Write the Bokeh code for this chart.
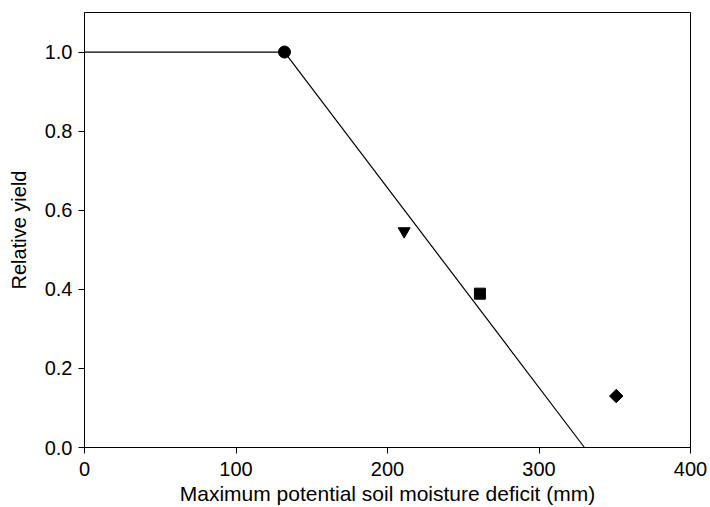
import math
from bokeh.plotting import figure
from bokeh.models import Range1d, FixedTicker
from bokeh.embed import file_html
from bokeh.resources import INLINE

# Fitted response line (deficit mm, relative yield)
line_x = [0, 132, 330]
line_y = [1.0, 1.0, 0.0]

# Observed points
circle_x = [132]
circle_y = [1.0]
tri_x = [211]
tri_y = [0.547]
square_x = [261]
square_y = [0.389]
diamond_x = [351]
diamond_y = [0.13]

x_ticks = [0, 100, 200, 300, 400]
y_ticks = [0.0, 0.2, 0.4, 0.6, 0.8, 1.0]
y_tick_labels = {0.0: "0.0", 0.2: "0.2", 0.4: "0.4", 0.6: "0.6", 0.8: "0.8", 1.0: "1.0"}

p = figure(width=710, height=507, output_backend="svg", toolbar_location=None,
           x_range=Range1d(0, 400), y_range=Range1d(0, 1.1))
p.min_border_left = 84
p.min_border_right = 20
p.min_border_top = 12
p.min_border_bottom = 59
p.xgrid.visible = False
p.ygrid.visible = False
p.outline_line_color = "black"
p.outline_line_width = 1
p.outline_line_alpha = 1

p.line(line_x, line_y, line_color="black", line_width=1.2)
p.scatter(circle_x, circle_y, marker="circle", size=12, color="black")
p.scatter(tri_x, tri_y, marker="inverted_triangle", size=12, color="black")
p.scatter(square_x, square_y, marker="square", size=11, color="black")
p.scatter(diamond_x, diamond_y, marker="square", size=9.5, angle=math.pi / 4, color="black")

font = "Liberation Sans"
for ax in (p.xaxis[0], p.yaxis[0]):
    ax.axis_line_color = "black"
    ax.major_tick_line_color = "black"
    ax.minor_tick_line_color = None
    ax.major_tick_out = 6
    ax.major_tick_in = 0
    ax.major_label_text_font = font
    ax.major_label_text_font_size = "20px"
    ax.major_label_text_color = "black"
    ax.axis_label_text_font = font
    ax.axis_label_text_font_size = "20px"
    ax.axis_label_text_font_style = "normal"
    ax.axis_label_text_color = "black"

p.xaxis[0].ticker = FixedTicker(ticks=x_ticks)
p.yaxis[0].ticker = FixedTicker(ticks=y_ticks)
p.yaxis[0].major_label_overrides = y_tick_labels
p.xaxis[0].axis_label = "Maximum potential soil moisture deficit (mm)"
p.yaxis[0].axis_label = "Relative yield"
p.xaxis[0].axis_label_text_font_size = "21px"
p.xaxis[0].major_label_standoff = 8
p.xaxis[0].axis_label_standoff = 3
p.yaxis[0].major_label_standoff = 6
p.yaxis[0].axis_label_standoff = 12

open("out.html", "w").write(file_html(p, INLINE))
